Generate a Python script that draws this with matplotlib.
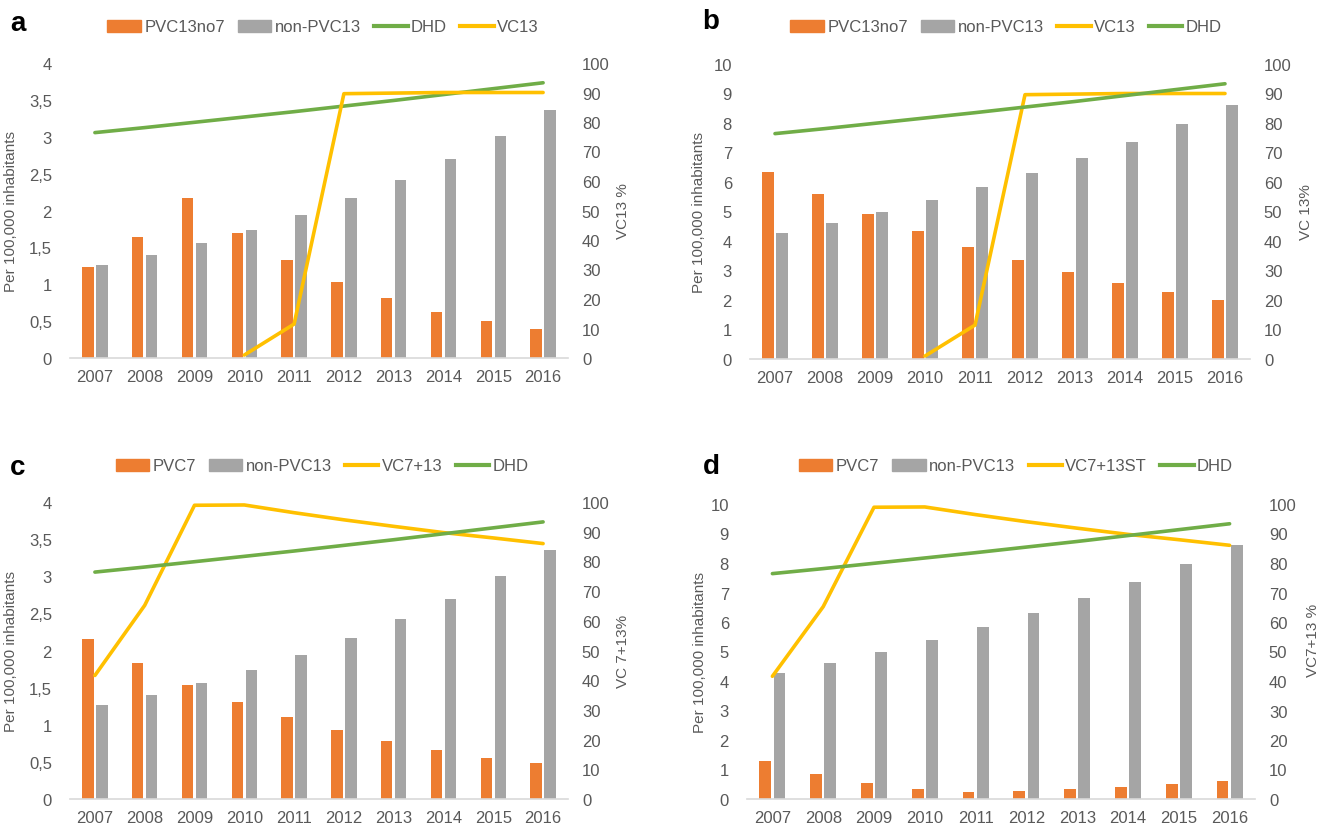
import numpy as np
import matplotlib
matplotlib.use("Agg")
import matplotlib.pyplot as plt
from matplotlib.patches import Patch
from matplotlib.lines import Line2D

plt.rcParams['font.family'] = ['Liberation Sans', 'DejaVu Sans']

years = ['2007', '2008', '2009', '2010', '2011', '2012', '2013', '2014', '2015', '2016']

# panel a / c (low scale)
pvc13no7_a = [1.24, 1.64, 2.17, 1.70, 1.33, 1.03, 0.82, 0.63, 0.50, 0.39]
nonpvc13_ac = [1.26, 1.40, 1.56, 1.74, 1.94, 2.17, 2.42, 2.70, 3.01, 3.36]
pvc7_c = [2.16, 1.83, 1.54, 1.30, 1.11, 0.93, 0.78, 0.66, 0.55, 0.48]

# panel b / d (high scale)
pvc13no7_b = [6.35, 5.59, 4.92, 4.33, 3.81, 3.34, 2.95, 2.59, 2.27, 2.00]
nonpvc13_bd = [4.27, 4.61, 4.99, 5.39, 5.83, 6.31, 6.81, 7.36, 7.97, 8.61]
pvc7_d = [1.28, 0.85, 0.54, 0.35, 0.24, 0.28, 0.34, 0.42, 0.51, 0.62]

# lines (right axis, %)
dhd = [76.4, 78.1, 79.9, 81.7, 83.5, 85.4, 87.3, 89.3, 91.3, 93.3]
vc13 = [np.nan, np.nan, np.nan, 1.0, 11.5, 89.6, 89.8, 90.0, 90.0, 90.0]
vc7_13 = [41.6, 65.2, 98.9, 99.0, 96.4, 94.0, 91.8, 89.7, 87.9, 86.0]

ORANGE = '#ED7D31'
GRAY = '#A5A5A5'
GREEN = '#70AD47'
YELLOW = '#FFC000'
TXT = '#595959'

W, H = 1322, 829
fig = plt.figure(figsize=(W / 100, H / 100), dpi=100)


def px_axes(l, r, t, b):
    return fig.add_axes([l / W, 1 - b / H, (r - l) / W, (b - t) / H])


def comma(v):
    s = ('%g' % v)
    return s.replace('.', ',')


def panel(box, letter, letter_xy, bar1, bar1_name, bar2, ymax, ystep,
          lines, rlabel, leg_xy, ylab_px, rlab_px, rlab_y=0.5):
    ax = px_axes(*box)
    x = np.arange(len(years))
    w = 0.23
    ax.bar(x - 0.14, bar1, w, color=ORANGE, zorder=2)
    ax.bar(x + 0.14, bar2, w, color=GRAY, zorder=2)
    ax.set_xlim(-0.5, len(years) - 0.5)
    ax.set_ylim(0, ymax)
    ticks = np.arange(0, ymax + 0.001, ystep)
    ax.set_yticks(ticks)
    ax.set_yticklabels([comma(t) for t in ticks])
    ax.set_xticks(x)
    ax.set_xticklabels(years)
    for s in ['top', 'right', 'left']:
        ax.spines[s].set_visible(False)
    ax.spines['bottom'].set_color('#D9D9D9')
    ax.spines['bottom'].set_linewidth(1.2)
    ax.tick_params(length=0, labelsize=12, colors=TXT, pad=8)
    ax.tick_params(axis='y', pad=13)
    width = box[1] - box[0]
    ax.set_ylabel('Per 100,000 inhabitants', fontsize=11, color=TXT)
    ax.yaxis.set_label_coords((ylab_px - box[0]) / width, 0.5)

    ax2 = ax.twinx()
    ax2.set_ylim(0, 100)
    ax2.set_yticks(np.arange(0, 101, 10))
    for s in ['top', 'right', 'left', 'bottom']:
        ax2.spines[s].set_visible(False)
    ax2.tick_params(length=0, labelsize=12, colors=TXT, pad=10)
    ax2.set_ylabel(rlabel, fontsize=11, color=TXT)
    ax2.yaxis.set_label_coords((rlab_px - box[0]) / width, rlab_y)

    handles = [Patch(color=ORANGE, label=bar1_name),
               Patch(color=GRAY, label='non-PVC13')]
    for vals, name, col in lines:
        ax2.plot(x, vals, color=col, lw=2.6, solid_capstyle='round')
        handles.append(Line2D([0], [0], color=col, lw=3, label=name))

    fig.legend(handles=handles, loc='center', ncol=4, frameon=False,
               bbox_to_anchor=(leg_xy[0] / W, 1 - leg_xy[1] / H),
               fontsize=12, labelcolor=TXT, handlelength=2.0,
               handleheight=0.75, handletextpad=0.2, columnspacing=0.8)
    fig.text(letter_xy[0] / W, 1 - letter_xy[1] / H, letter, fontsize=20,
             fontweight='bold', ha='left', va='center')


panel((70, 568, 64, 359), 'a', (10, 24), pvc13no7_a, 'PVC13no7', nonpvc13_ac, 4, 0.5,
      [(dhd, 'DHD', GREEN), (vc13, 'VC13', YELLOW)], 'VC13 %', (323, 28), 18, 616)
panel((750, 1250, 65, 360), 'b', (702, 22), pvc13no7_b, 'PVC13no7', nonpvc13_bd, 10, 1,
      [(vc13, 'VC13', YELLOW), (dhd, 'DHD', GREEN)], 'VC 13%', (1006, 28), 706, 1299)
panel((70, 568, 503, 800), 'c', (10, 468), pvc7_c, 'PVC7', nonpvc13_ac, 4, 0.5,
      [(vc7_13, 'VC7+13', YELLOW), (dhd, 'DHD', GREEN)], 'VC 7+13%', (322, 467), 18, 616)
panel((747, 1255, 505, 800), 'd', (703, 467), pvc7_d, 'PVC7', nonpvc13_bd, 10, 1,
      [(vc7_13, 'VC7+13ST', YELLOW), (dhd, 'DHD', GREEN)], 'VC7+13 %', (1016, 467), 707, 1306,
      0.54)

fig.savefig('out.png', dpi=100)
